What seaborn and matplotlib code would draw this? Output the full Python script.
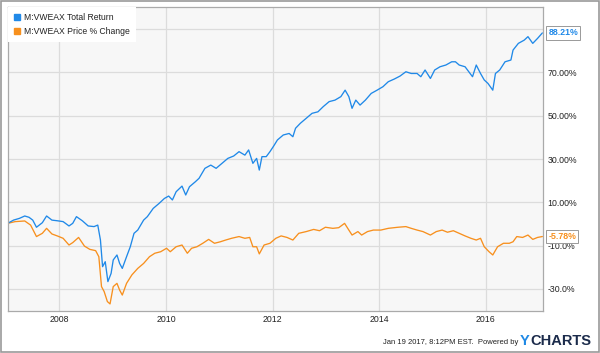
"""VWEAX total return vs price change, YCharts style."""

import matplotlib
matplotlib.use("Agg")
import matplotlib.pyplot as plt
import pandas as pd
import seaborn as sns
from matplotlib.lines import Line2D
from matplotlib.patches import Rectangle


TR_LABEL = "M:VWEAX Total Return"
PC_LABEL = "M:VWEAX Price % Change"

tr_years = [
    2007.03, 2007.14, 2007.25, 2007.35, 2007.43, 2007.50, 2007.57, 2007.68, 2007.76, 2007.86,
    2007.96, 2008.07, 2008.18, 2008.25, 2008.32, 2008.43, 2008.54, 2008.65, 2008.72, 2008.77,
    2008.81, 2008.86, 2008.91, 2008.97, 2009.01, 2009.08, 2009.13, 2009.18, 2009.26, 2009.33,
    2009.40, 2009.47, 2009.58, 2009.65, 2009.76, 2009.87, 2009.97, 2010.05, 2010.12, 2010.19,
    2010.30, 2010.37, 2010.44, 2010.55, 2010.62, 2010.73, 2010.84, 2010.94, 2011.05, 2011.16,
    2011.27, 2011.37, 2011.48, 2011.55, 2011.63, 2011.70, 2011.75, 2011.80, 2011.88, 2011.95,
    2012.02, 2012.09, 2012.20, 2012.31, 2012.38, 2012.43, 2012.52, 2012.63, 2012.74, 2012.85,
    2012.95, 2013.06, 2013.17, 2013.28, 2013.36, 2013.43, 2013.49, 2013.56, 2013.64, 2013.74,
    2013.85, 2013.96, 2014.07, 2014.17, 2014.28, 2014.39, 2014.50, 2014.60, 2014.71, 2014.78,
    2014.86, 2014.96, 2015.04, 2015.14, 2015.25, 2015.36, 2015.43, 2015.50, 2015.61, 2015.68,
    2015.75, 2015.82, 2015.90, 2015.97, 2016.04, 2016.13, 2016.18, 2016.26, 2016.36, 2016.47,
    2016.51, 2016.61, 2016.72, 2016.79, 2016.88, 2016.97, 2017.06,
]
tr_values = [
    0.3, 1.8, 2.6, 3.7, 3.1, 1.8, -1.5, 0.6, 3.7, 1.8,
    1.5, 1.1, -0.9, 0.3, 3.4, 1.5, -0.9, -1.2, -0.5, -7.4,
    -19.7, -17.4, -26.6, -22.8, -16.6, -14.3, -18.2, -20.5, -15.1, -10.5,
    -4.3, -2.8, 1.8, 3.4, 7.2, 9.5, 11.8, 12.9, 11.1, 14.9,
    17.5, 13.4, 17.2, 19.5, 21.1, 25.7, 27.2, 25.7, 28.0, 30.3,
    31.4, 33.4, 31.8, 34.2, 28.0, 30.3, 24.9, 31.1, 31.1, 33.4,
    36.0, 38.8, 41.1, 41.8, 40.3, 44.2, 46.5, 48.8, 51.1, 51.8,
    54.2, 56.5, 57.2, 58.8, 61.8, 58.8, 53.4, 57.2, 54.9, 57.2,
    60.3, 61.8, 63.4, 65.7, 66.9, 68.3, 70.3, 69.5, 69.5, 68.0,
    71.1, 67.2, 71.1, 72.6, 73.4, 74.9, 74.9, 73.4, 72.6, 70.3,
    68.0, 73.4, 69.5, 66.5, 64.9, 61.8, 69.5, 71.1, 74.9, 75.7,
    80.3, 83.4, 84.9, 86.5, 83.4, 85.7, 88.21,
]

pc_years = [
    2007.03, 2007.17, 2007.35, 2007.46, 2007.57, 2007.68, 2007.76, 2007.86, 2007.96, 2008.07,
    2008.18, 2008.25, 2008.36, 2008.47, 2008.57, 2008.68, 2008.74, 2008.79, 2008.84, 2008.90,
    2008.95, 2009.01, 2009.08, 2009.13, 2009.18, 2009.26, 2009.36, 2009.47, 2009.58, 2009.69,
    2009.79, 2009.90, 2010.01, 2010.08, 2010.19, 2010.30, 2010.40, 2010.48, 2010.58, 2010.69,
    2010.80, 2010.91, 2011.02, 2011.12, 2011.23, 2011.37, 2011.48, 2011.57, 2011.63, 2011.70,
    2011.75, 2011.84, 2011.95, 2012.06, 2012.16, 2012.27, 2012.38, 2012.49, 2012.63, 2012.77,
    2012.88, 2012.99, 2013.13, 2013.24, 2013.35, 2013.43, 2013.49, 2013.60, 2013.67, 2013.78,
    2013.89, 2014.03, 2014.17, 2014.35, 2014.50, 2014.60, 2014.71, 2014.82, 2014.96, 2015.07,
    2015.18, 2015.28, 2015.39, 2015.50, 2015.61, 2015.72, 2015.82, 2015.90, 2015.97, 2016.06,
    2016.13, 2016.22, 2016.33, 2016.44, 2016.51, 2016.58, 2016.69, 2016.79, 2016.88, 2016.97,
    2017.06,
]
pc_values = [
    0.3, 1.1, 1.4, -0.5, -5.8, -4.3, -2.0, -4.6, -5.5, -6.6,
    -9.7, -8.6, -6.2, -10.2, -11.7, -12.3, -15.1, -28.9, -31.2, -35.8,
    -36.9, -28.9, -27.4, -30.5, -32.8, -27.4, -23.5, -20.5, -18.2, -15.1,
    -13.5, -12.8, -11.2, -12.8, -10.5, -9.7, -13.5, -11.2, -10.5, -8.9,
    -7.1, -8.9, -8.2, -7.4, -6.6, -5.8, -6.6, -6.2, -10.5, -10.5,
    -13.8, -9.7, -8.9, -6.6, -5.5, -6.2, -7.4, -4.3, -3.5, -2.5,
    -3.1, -1.5, -2.0, -1.7, 0.3, -2.8, -5.1, -3.5, -5.1, -3.5,
    -2.8, -2.8, -2.0, -1.5, -1.2, -2.0, -2.8, -3.5, -5.1, -3.5,
    -2.8, -3.8, -3.1, -4.3, -5.5, -6.6, -7.4, -6.6, -10.5, -12.8,
    -14.3, -10.5, -8.9, -8.9, -8.2, -5.8, -6.2, -5.1, -7.1, -6.2,
    -5.78,
]

x_ticks = [2008, 2010, 2012, 2014, 2016]
y_ticks = [-30, -10, 10, 30, 50, 70, 90]
y_tick_labels = ["-30.0%", "-10.0%", "10.00%", "30.00%", "50.00%", "70.00%", "90.00%"]

BLUE = "#2089e8"
ORANGE = "#f7901e"
FONT = ["Liberation Sans", "DejaVu Sans"]


def build_frame() -> pd.DataFrame:
    tr = pd.DataFrame({"year": tr_years, "value": tr_values, "series": TR_LABEL})
    pc = pd.DataFrame({"year": pc_years, "value": pc_values, "series": PC_LABEL})
    return pd.concat([pc, tr], ignore_index=True)


def main() -> None:
    sns.set_theme(style="whitegrid")
    plt.rcParams["font.family"] = FONT

    df = build_frame()
    fig = plt.figure(figsize=(6.0, 3.53), dpi=100, facecolor="white")
    ax = fig.add_axes([0.0128, 0.12, 0.8929, 0.859])
    ax.set_facecolor("#f7f7f7")

    sns.lineplot(
        data=df, x="year", y="value", hue="series",
        palette={TR_LABEL: BLUE, PC_LABEL: ORANGE},
        hue_order=[PC_LABEL, TR_LABEL], linewidth=0.95, legend=False, ax=ax,
    )

    ax.set_xlim(2007.03, 2017.08)
    ax.set_ylim(-40, 100)
    ax.set_xticks(x_ticks)
    ax.set_xticklabels([str(t) for t in x_ticks])
    ax.set_yticks(y_ticks)
    ax.set_yticklabels(y_tick_labels)
    ax.yaxis.tick_right()
    ax.set_xlabel("")
    ax.set_ylabel("")
    ax.tick_params(axis="both", length=0, labelsize=6.3, labelcolor="#222222")
    ax.tick_params(axis="x", pad=3)
    ax.tick_params(axis="y", pad=3)
    for lab in ax.get_yticklabels():
        lab.set_horizontalalignment("left")
    ax.grid(True, color="#dcdcdc", linewidth=0.9)
    for sp in ax.spines.values():
        sp.set_visible(True)
        sp.set_color("#aaaaaa")
        sp.set_linewidth(0.9)

    handles = [
        Line2D([], [], linestyle="none", marker="s", markersize=4.5, color=BLUE),
        Line2D([], [], linestyle="none", marker="s", markersize=4.5, color=ORANGE),
    ]
    leg = ax.legend(
        handles, [TR_LABEL, PC_LABEL], loc="upper left", bbox_to_anchor=(0, 1),
        borderaxespad=0, frameon=True, fancybox=False, facecolor="white",
        edgecolor="white", framealpha=1, fontsize=6.2, handlelength=0.8,
        handletextpad=0.4, labelspacing=0.55, borderpad=0.7,
    )
    leg.get_frame().set_linewidth(0)
    for t in leg.get_texts():
        t.set_color("#222222")

    # end-of-series value boxes (cover the 90.00% tick like the original)
    for yv, col in [(tr_values[-1], BLUE), (pc_values[-1], ORANGE)]:
        ax.annotate(
            f"{yv:.2f}%", xy=(1.0, yv), xycoords=("axes fraction", "data"),
            xytext=(3.5, 0), textcoords="offset points", ha="left", va="center",
            fontsize=6.3, color=col, fontweight="bold", annotation_clip=False,
            bbox=dict(boxstyle="square,pad=0.25", fc="white", ec="#999999", lw=0.7),
            zorder=10,
        )

    fig.text(518 / 600, 1 - 342 / 353, "Jan 19 2017, 8:12PM EST.  Powered by",
             ha="right", va="center", fontsize=5.5, color="#222222")
    fig.text(520 / 600, 1 - 341 / 353, "Y", ha="left", va="center",
             fontsize=10.5, fontweight="bold", color="#1e88e5")
    fig.text(530 / 600, 1 - 341 / 353, "CHARTS", ha="left", va="center",
             fontsize=10.5, fontweight="bold", color="#1b2b4b")

    fig.patches.append(Rectangle((0.001, 0.002), 0.997, 0.995, transform=fig.transFigure,
                                 fill=False, edgecolor="#999999", linewidth=1.2))

    fig.savefig("out.png", dpi=100, facecolor="white")
    plt.close(fig)


if __name__ == "__main__":
    main()
